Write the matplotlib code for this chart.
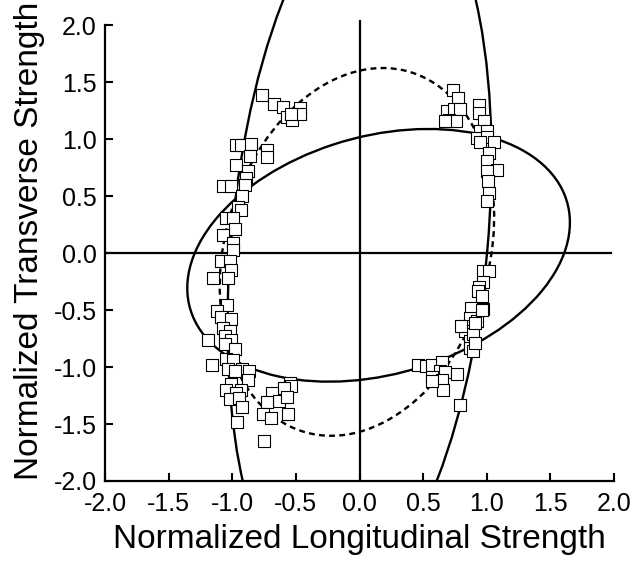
import matplotlib
matplotlib.use("Agg")
import matplotlib.pyplot as plt
from matplotlib.patches import Ellipse
from matplotlib.ticker import FormatStrFormatter

plt.rcParams['font.family'] = ['Liberation Sans', 'DejaVu Sans']
plt.rcParams['axes.unicode_minus'] = False

# measured normalized strengths (longitudinal, transverse)
long_str = [
    -0.77, -0.67, -0.60, -0.57, -0.53, -0.47, -0.465, -0.54,
    -0.97, -0.93, -0.85, -0.86, -0.73, -0.73, -0.97, -0.88, -0.89, -1.07, -1.01, -0.90, -0.92,
    -0.955, -0.93, -1.05, -0.995, -0.98, -1.07, -0.995, -0.995, -1.09, -1.02, -1.01, -1.15, -1.035,
    -1.04, -1.12, -1.09, -1.01, -1.07, -1.02, -1.19, -1.06, -1.01, -1.06, -0.98, -1.05, -0.995,
    -1.16, -1.03, -0.92, -0.98, -0.865, -0.88, -1.01, -1.05, -0.93, -0.97, -1.02, -0.95, -0.925, -0.96,
    -0.55, -0.54, -0.59, -0.69, -0.63, -0.57, -0.73, -0.76, -0.695, -0.565, -0.75,
    0.737, 0.776, 0.685, 0.742, 0.79, 0.706, 0.758, 0.67, 0.94, 0.94, 0.98, 0.95, 1.0, 0.92,
    1.0, 1.06, 0.945, 1.02, 1.0, 1.08, 1.0, 1.01, 1.02, 1.0,
    0.97, 1.02, 0.97, 0.94, 0.93, 0.96, 0.88, 0.97, 0.87, 0.92, 0.82, 0.83, 0.87, 0.89, 0.87,
    0.89, 0.96, 0.80, 0.91, 0.906,
    0.46, 0.52, 0.57, 0.65, 0.63, 0.67, 0.57, 0.65, 0.66, 0.77, 0.79, 0.57,
]
trans_str = [
    1.39, 1.31, 1.28, 1.19, 1.17, 1.27, 1.22, 1.22,
    0.95, 0.95, 0.96, 0.85, 0.90, 0.84, 0.77, 0.72, 0.66, 0.59, 0.59, 0.60, 0.50,
    0.40, 0.38, 0.31, 0.31, 0.21, 0.16, 0.09, 0.03, -0.07, -0.07, -0.15, -0.22, -0.22,
    -0.46, -0.51, -0.56, -0.58, -0.655, -0.68, -0.76, -0.73, -0.76, -0.80, -0.845, -0.93, -0.94,
    -0.985, -1.02, -1.02, -1.035, -1.035, -1.11, -1.15, -1.20, -1.20, -1.225, -1.28, -1.275, -1.35, -1.48,
    -1.14, -1.17, -1.18, -1.225, -1.30, -1.26, -1.31, -1.415, -1.445, -1.415, -1.65,
    1.43, 1.36, 1.25, 1.26, 1.26, 1.17, 1.16, 1.16, 1.30, 1.23, 1.16, 1.07, 1.07, 1.01,
    1.02, 0.97, 0.97, 0.88, 0.81, 0.73, 0.72, 0.63, 0.53, 0.46,
    -0.16, -0.16, -0.25, -0.30, -0.33, -0.38, -0.48, -0.49, -0.57, -0.60, -0.64, -0.68, -0.77, -0.71, -0.83,
    -0.86, -0.50, -0.64, -0.61, -0.79,
    -0.985, -0.99, -0.98, -0.96, -1.035, -1.04, -1.09, -1.11, -1.20, -1.06, -1.33, -1.12,
]

# failure envelopes: (center x, center y, full width, full height, angle in degrees)
solid_env = (0.15, -0.02, 3.11, 2.07, 20.0)
dashed_env = (-0.02, 0.01, 3.27, 2.09, 77.8)
long_env = (0.0, 0.1, 6.42, 2.014, 85.3)

ticks = [-2.0, -1.5, -1.0, -0.5, 0.0, 0.5, 1.0, 1.5, 2.0]

fig = plt.figure(figsize=(6.34, 5.63), dpi=100)
ax = fig.add_axes([105 / 634, 82 / 563, 509 / 634, 481 / 563])

ax.axhline(0, xmin=0, xmax=0.995, color='black', lw=1.6)
ax.axvline(0, ymin=0, ymax=4.04 / 4.22, color='black', lw=1.6)

for env, ls in [(solid_env, '-'), (long_env, '-'), (dashed_env, (0, (2.5, 1.8)))]:
    cx, cy, w, h, ang = env
    ax.add_patch(Ellipse((cx, cy), w, h, angle=ang, fill=False,
                         edgecolor='black', lw=1.7, linestyle=ls))

ax.scatter(long_str, trans_str, marker='s', s=64, facecolor='white',
           edgecolor='black', linewidths=0.8, zorder=3)

ax.set_xlim(-2.0, 2.0)
ax.set_ylim(-2.0, 2.22)
ax.set_xticks(ticks)
ax.set_yticks(ticks)
ax.xaxis.set_major_formatter(FormatStrFormatter('%.1f'))
ax.yaxis.set_major_formatter(FormatStrFormatter('%.1f'))
ax.tick_params(direction='in', length=6, width=1.5, labelsize=18, pad=6)
ax.tick_params(axis='x', pad=8)

ax.spines['top'].set_visible(False)
ax.spines['right'].set_visible(False)
ax.spines['left'].set_bounds(-2.0, 2.0)
for s in ('left', 'bottom'):
    ax.spines[s].set_linewidth(1.6)

ax.set_xlabel('Normalized Longitudinal Strength', fontsize=24, labelpad=6)
ax.set_ylabel('Normalized Transverse Strength', fontsize=24, labelpad=6)

fig.savefig('out.png', dpi=100)
